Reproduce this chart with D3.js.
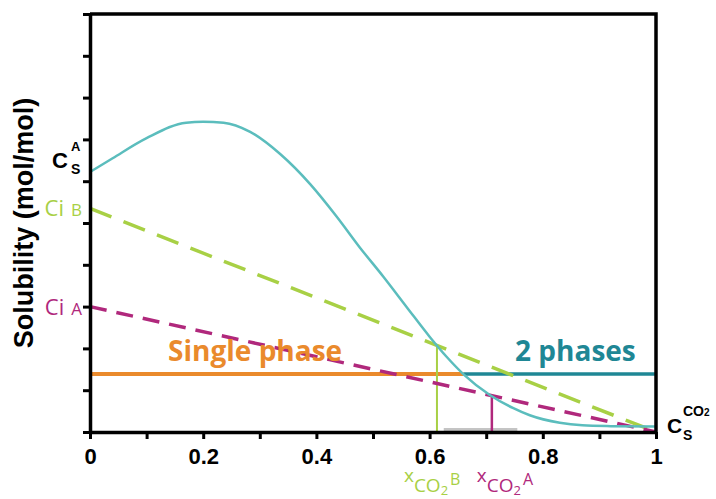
<!DOCTYPE html>
<html>
<head>
<meta charset="utf-8">
<script src="https://cdn.jsdelivr.net/npm/d3@7"></script>
<style>
    body { margin: 0; background: #fff; }
    svg { display: block; }
    .axis path, .axis line { stroke: #000; }
    .axis text { font-family: 'Liberation Sans', Arial, sans-serif; font-weight: bold; fill: #000; }
</style>
</head>
<body>
<div id="chart-wrapper"></div>
<script>
// solubility curve (cyan)
var curveX = [0, 0.04, 0.10, 0.17, 0.20, 0.236, 0.283, 0.336, 0.389, 0.436, 0.477, 0.518, 0.560, 0.600, 0.630, 0.66, 0.707, 0.748, 0.777, 0.83, 0.87, 0.92, 1.0];
var curveY = [0.622, 0.655, 0.703, 0.740, 0.742, 0.740, 0.718, 0.665, 0.593, 0.515, 0.441, 0.372, 0.298, 0.228, 0.180, 0.138, 0.088, 0.057, 0.040, 0.022, 0.016, 0.014, 0.013];

// dashed operating lines
var lineBX = [0, 1], lineBY = [0.535, 0.0];
var lineAX = [0, 1], lineAY = [0.300, 0.0];

// phase boundary
var phaseLevel = 0.139;
var phaseSplit = 0.66;

// compositions where the dashed lines meet the curve
var xCO2B = 0.613, xCO2A = 0.71;

// grey bit lying on the x axis
var greyX = [0.625, 0.755], greyLevel = 0.006;

var xTicks = [0, 0.1, 0.2, 0.3, 0.4, 0.5, 0.6, 0.7, 0.8, 0.9, 1];
var xTickLabels = ['0', '', '0.2', '', '0.4', '', '0.6', '', '0.8', '', '1'];
var yTicks = [0, 0.1, 0.2, 0.3, 0.4, 0.5, 0.6, 0.7, 0.8, 0.9, 1];

(function (d3) {

    var margin = {top: 14, right: 60, bottom: 67, left: 90},
        width = 716 - margin.left - margin.right,
        height = 499 - margin.top - margin.bottom;

    var cyan = '#5bbdbd',
        green = '#a8d045',
        magenta = '#b0287c',
        orange = '#ea8a2c',
        teal = '#1f8795';

    var xScale = d3.scaleLinear().domain([0, 1]).range([0, width]);
    var yScale = d3.scaleLinear().domain([0, 1]).range([height, 0]);

    var svg = d3.select('#chart-wrapper')
        .append('svg')
        .attr('width', 716)
        .attr('height', 499);

    var g = svg.append('g')
        .attr('transform', 'translate(' + margin.left + ',' + margin.top + ')');

    var line = d3.line()
        .x(function (d) { return xScale(d[0]); })
        .y(function (d) { return yScale(d[1]); });

    var smooth = d3.line()
        .x(function (d) { return xScale(d[0]); })
        .y(function (d) { return yScale(d[1]); })
        .curve(d3.curveMonotoneX);

    function pairs(xs, ys) {
        return xs.map(function (v, i) { return [v, ys[i]]; });
    }

    // grey segment on axis
    g.append('path')
        .attr('d', line(pairs(greyX, [greyLevel, greyLevel])))
        .attr('stroke', '#c4c4c4')
        .attr('stroke-width', 3)
        .attr('fill', 'none');

    // phase lines
    g.append('path')
        .attr('d', line([[0, phaseLevel], [phaseSplit, phaseLevel]]))
        .attr('stroke', orange)
        .attr('stroke-width', 4)
        .attr('fill', 'none');

    g.append('path')
        .attr('d', line([[phaseSplit, phaseLevel], [1, phaseLevel]]))
        .attr('stroke', teal)
        .attr('stroke-width', 3.5)
        .attr('fill', 'none');

    // verticals
    var yAtB = lineBY[0] + (lineBY[1] - lineBY[0]) * xCO2B;
    var yAtA = lineAY[0] + (lineAY[1] - lineAY[0]) * xCO2A;

    g.append('path')
        .attr('d', line([[xCO2B, 0], [xCO2B, yAtB]]))
        .attr('stroke', green)
        .attr('stroke-width', 2)
        .attr('fill', 'none');

    g.append('path')
        .attr('d', line([[xCO2A, 0], [xCO2A, yAtA]]))
        .attr('stroke', magenta)
        .attr('stroke-width', 2.5)
        .attr('fill', 'none');

    // dashed lines
    g.append('path')
        .attr('d', line(pairs(lineBX, lineBY)))
        .attr('stroke', green)
        .attr('stroke-width', 3.5)
        .attr('stroke-dasharray', '23,13')
        .attr('fill', 'none');

    g.append('path')
        .attr('d', line(pairs(lineAX, lineAY)))
        .attr('stroke', magenta)
        .attr('stroke-width', 3.5)
        .attr('stroke-dasharray', '17,10')
        .attr('fill', 'none');

    // solubility curve
    g.append('path')
        .attr('d', smooth(pairs(curveX, curveY)))
        .attr('stroke', cyan)
        .attr('stroke-width', 2.5)
        .attr('fill', 'none');

    // axes
    var xAxis = d3.axisBottom(xScale)
        .tickValues(xTicks)
        .tickSizeInner(7)
        .tickSizeOuter(0)
        .tickPadding(9)
        .tickFormat(function (d, i) { return xTickLabels[i]; });

    var yAxis = d3.axisLeft(yScale)
        .tickValues(yTicks)
        .tickSizeInner(7)
        .tickSizeOuter(0)
        .tickFormat('');

    g.append('g')
        .attr('class', 'x axis')
        .attr('transform', 'translate(0,' + height + ')')
        .call(xAxis)
        .call(function (a) {
            a.select('.domain').attr('stroke-width', 3.5);
            a.selectAll('.tick line').attr('stroke-width', 3);
            a.selectAll('.tick text').attr('font-size', 22);
        });

    g.append('g')
        .attr('class', 'y axis')
        .call(yAxis)
        .call(function (a) {
            a.select('.domain').attr('stroke-width', 3.5);
            a.selectAll('.tick line').attr('stroke-width', 3);
        });

    // top and right frame
    g.append('path')
        .attr('d', line([[0, 1], [1, 1], [1, 0]]))
        .attr('stroke', '#000')
        .attr('stroke-width', 3.5)
        .attr('fill', 'none');

    // y axis title
    svg.append('text')
        .attr('transform', 'translate(33,' + (margin.top + height / 2) + ') rotate(-90)')
        .attr('text-anchor', 'middle')
        .attr('font-family', "'Liberation Sans', Arial, sans-serif")
        .attr('font-weight', 'bold')
        .attr('font-size', 27)
        .text('Solubility (mol/mol)');

    // C_S^A
    var csA = svg.append('text')
        .attr('font-family', "'Liberation Sans', Arial, sans-serif")
        .attr('font-weight', 'bold')
        .attr('fill', '#000');
    var baseA = margin.top + yScale(curveY[0]) - 4;
    csA.append('tspan').attr('x', 52).attr('y', baseA).attr('font-size', 22).text('C');
    csA.append('tspan').attr('x', 71).attr('y', baseA - 17).attr('font-size', 13).text('A');
    csA.append('tspan').attr('x', 71).attr('y', baseA + 6).attr('font-size', 14).text('S');

    // C_S^CO2
    var csC = svg.append('text')
        .attr('font-family', "'Liberation Sans', Arial, sans-serif")
        .attr('font-weight', 'bold')
        .attr('fill', '#000');
    var baseC = margin.top + yScale(0) + 1;
    var leftC = margin.left + xScale(1) + 11;
    csC.append('tspan').attr('x', leftC).attr('y', baseC).attr('font-size', 21).text('C');
    csC.append('tspan').attr('x', leftC + 16).attr('y', baseC - 17).attr('font-size', 14).text('CO');
    csC.append('tspan').attr('font-size', 10).text('2');
    csC.append('tspan').attr('x', leftC + 16).attr('y', baseC + 7).attr('font-size', 14).text('S');

    // Ci labels
    function ciLabel(level, sub, color) {
        var t = svg.append('text')
            .attr('x', margin.left - 8)
            .attr('y', margin.top + yScale(level) + 8)
            .attr('text-anchor', 'end')
            .attr('font-family', "'Open Sans', sans-serif")
            .attr('fill', color);
        t.append('tspan').attr('font-size', 22).text('Ci');
        t.append('tspan').attr('dx', 7).attr('font-size', 17).text(sub);
    }
    ciLabel(lineBY[0], 'B', green);
    ciLabel(lineAY[0], 'A', magenta);

    // composition labels under the axis
    function xcoLabel(left, sub, color) {
        var base = 482;
        var t = svg.append('text')
            .attr('font-family', "'Open Sans', sans-serif")
            .attr('fill', color);
        t.append('tspan').attr('x', left).attr('y', base).attr('font-size', 19).text('x');
        t.append('tspan').attr('dy', 10).attr('font-size', 19).text('CO');
        t.append('tspan').attr('dy', 3).attr('font-size', 13).text('2');
        t.append('tspan').attr('dx', 2).attr('dy', -10).attr('font-size', 16).text(sub);
    }
    xcoLabel(margin.left + xScale(xCO2B) - 33, 'B', green);
    xcoLabel(margin.left + xScale(xCO2A) - 15, 'A', magenta);

    // phase region labels
    g.append('text')
        .attr('x', xScale(0.138))
        .attr('y', yScale(phaseLevel) - 13)
        .attr('font-family', "'Open Sans', sans-serif")
        .attr('font-weight', 'bold')
        .attr('font-size', 28)
        .attr('fill', orange)
        .text('Single phase');

    g.append('text')
        .attr('x', xScale(0.751))
        .attr('y', yScale(phaseLevel) - 13)
        .attr('font-family', "'Open Sans', sans-serif")
        .attr('font-weight', 'bold')
        .attr('font-size', 28)
        .attr('fill', teal)
        .text('2 phases');

})(d3);
</script>
</body>
</html>
